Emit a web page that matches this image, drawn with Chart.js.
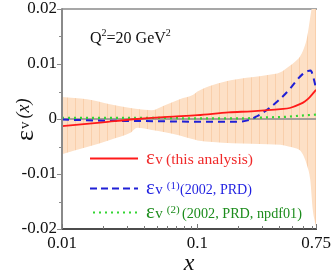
<!DOCTYPE html>
<html>
<head>
<meta charset="utf-8">
<script src="https://cdn.jsdelivr.net/npm/chart.js@4.4.1/dist/chart.umd.min.js"></script>
<style>
html,body{margin:0;padding:0;background:#fff;}
canvas{display:block;}
</style>
</head>
<body>
<canvas id="c" width="332" height="276"></canvas>
<script>
// ---- data ----
const bandX     = [0.01, 0.0153, 0.0226, 0.032, 0.036, 0.046, 0.0575, 0.074, 0.093, 0.1, 0.13, 0.18, 0.25, 0.33, 0.41, 0.47, 0.53, 0.57, 0.61, 0.645, 0.68, 0.71, 0.75];
const bandUpper = [0.0040, 0.0036, 0.0027, 0.0020, 0.0018, 0.0016, 0.0025, 0.0036, 0.0044, 0.0050, 0.0062, 0.0071, 0.0076, 0.0080, 0.0085, 0.0095, 0.0105, 0.0113, 0.0128, 0.0149, 0.0185, 0.0215, 0.026];
const bandLower = [-0.0064, -0.0051, -0.0038, -0.0025, -0.0016, -0.0020, -0.0024, -0.0030, -0.0037, -0.0039, -0.0042, -0.0044, -0.0045, -0.0046, -0.0047, -0.0050, -0.0053, -0.0057, -0.0068, -0.0085, -0.0110, -0.0165, -0.0195];

const redX = [0.01, 0.02, 0.036, 0.06, 0.1, 0.17, 0.25, 0.33, 0.41, 0.48, 0.57, 0.62, 0.67, 0.71, 0.75];
const redY = [-0.0013, -0.0006, 0.0000, 0.0004, 0.0007, 0.0012, 0.0014, 0.0016, 0.0018, 0.0020, 0.0027, 0.0032, 0.0039, 0.0046, 0.0053];

const blueX = [0.01, 0.02, 0.05, 0.1, 0.19, 0.24, 0.275, 0.332, 0.406, 0.482, 0.543, 0.6, 0.65, 0.685, 0.72, 0.75];
const blueY = [-0.0001, -0.0003, -0.0004, -0.0005, -0.0005, -0.0002, 0.0005, 0.0018, 0.0036, 0.0055, 0.0071, 0.0082, 0.0087, 0.0088, 0.0074, 0.0056];

const greenX = [0.01, 0.05, 0.1, 0.2, 0.33, 0.45, 0.57, 0.75];
const greenY = [0.0002, 0.0002, 0.0001, 0.0001, 0.0003, 0.0004, 0.0006, 0.0008];

const xTickValues = [0.01, 0.1, 0.75];
const xTickLabels = ['0.01', '0.1', '0.75'];
const xMinorTicks = [0.02, 0.03, 0.04, 0.05, 0.06, 0.07, 0.08, 0.09, 0.2, 0.3, 0.4, 0.5, 0.6, 0.7];
const yTickValues = [-0.02, -0.01, 0, 0.01, 0.02];
const yTickLabels = ['-0.02', '-0.01', '0', '0.01', '0.02'];
const yMinorTicks = [-0.015, -0.005, 0.005, 0.015];

const legendRows = [
  {color:'#ff1a1a', text:'#f02a2a', dash:[], sup:'', label:'(this analysis)', lx: 166, rx: 253},
  {color:'#1f1fd6', text:'#1f1fe0', dash:[7,4], sup:'(1)', label:'(2002, PRD)', lx: 180, rx: 252},
  {color:'#33d633', text:'#1c8c1c', dash:[2,4], sup:'(2)', label:'(2002, PRD, npdf01)', lx: 182, rx: 302}
];

const pts = (xs, ys) => xs.map((x, i) => ({x: x, y: ys[i]}));

// hatched band fill
const pc = document.createElement('canvas');
pc.width = 8; pc.height = 4;
const pctx = pc.getContext('2d');
pctx.fillStyle = '#fde0c6'; pctx.fillRect(0, 0, 8, 4);
pctx.fillStyle = '#f9cfab'; pctx.fillRect(3, 0, 1, 4);
const ctx0 = document.getElementById('c').getContext('2d');
const bandPattern = ctx0.createPattern(pc, 'repeat');

const SERIF = '"Liberation Serif", "DejaVu Serif", serif';

function fitFont(ctx, text, width, base, style) {
  ctx.font = (style || '') + base + 'px ' + SERIF;
  const w = ctx.measureText(text).width;
  let s = base * width / w;
  s = Math.max(12, Math.min(17, s));
  ctx.font = (style || '') + s.toFixed(2) + 'px ' + SERIF;
  return s;
}

const decor = {
  id: 'decor',
  beforeDatasetsDraw(chart) {
    const {ctx, chartArea: a} = chart;
    ctx.save();
    ctx.strokeStyle = '#8a8a8a'; ctx.lineWidth = 1.5;
    ctx.beginPath(); ctx.moveTo(a.left, a.top); ctx.lineTo(a.right + 1, a.top); ctx.stroke();
    ctx.restore();
  },
  afterDatasetsDraw(chart) {
    const {ctx, chartArea: a, scales: {x, y}} = chart;
    ctx.save();
    ctx.strokeStyle = '#8a8a8a'; ctx.lineWidth = 2;
    ctx.beginPath(); ctx.moveTo(a.left, a.top - 0.75); ctx.lineTo(a.left, a.bottom); ctx.stroke();
    ctx.lineWidth = 1;
    yTickValues.forEach(v => { const py = Math.round(y.getPixelForValue(v)) + 0.5; ctx.beginPath(); ctx.moveTo(a.left - 5, py); ctx.lineTo(a.left, py); ctx.stroke(); });
    yMinorTicks.forEach(v => { const py = Math.round(y.getPixelForValue(v)) + 0.5; ctx.beginPath(); ctx.moveTo(a.left - 3, py); ctx.lineTo(a.left, py); ctx.stroke(); });
    ctx.strokeStyle = '#111'; ctx.lineWidth = 1.3;
    ctx.beginPath(); ctx.moveTo(a.left, a.bottom); ctx.lineTo(a.right + 1, a.bottom); ctx.stroke();
    ctx.strokeStyle = '#777'; ctx.lineWidth = 1;
    xTickValues.forEach(v => { const px = Math.round(x.getPixelForValue(v)) + 0.5; ctx.beginPath(); ctx.moveTo(px, a.bottom); ctx.lineTo(px, a.bottom - 5); ctx.stroke(); });
    xMinorTicks.forEach(v => { const px = Math.round(x.getPixelForValue(v)) + 0.5; ctx.beginPath(); ctx.moveTo(px, a.bottom); ctx.lineTo(px, a.bottom - 3); ctx.stroke(); });
    ctx.restore();
  },
  afterDraw(chart) {
    const {ctx, chartArea: a} = chart;
    ctx.save();
    ctx.textBaseline = 'alphabetic';
    ctx.textAlign = 'left';
    // Q^2 annotation
    let qx = 90; const qy = 43;
    const seg = (t, f, dy, col) => { ctx.font = f; ctx.fillStyle = col; ctx.fillText(t, qx, qy + dy); qx += ctx.measureText(t).width; };
    seg('Q', '16px ' + SERIF, 0, '#111');
    seg('2', '10px ' + SERIF, -7, '#111');
    seg('=20 GeV', '16px ' + SERIF, 0, '#111');
    seg('2', '10px ' + SERIF, -7, '#111');

    // x axis title
    ctx.font = 'italic 24px ' + SERIF; ctx.fillStyle = '#111'; ctx.textAlign = 'center';
    ctx.fillText('x', (a.left + a.right) / 2, 270);
    ctx.textAlign = 'left';

    // y axis title (rotated)
    ctx.save();
    ctx.translate(33, 118); ctx.rotate(-Math.PI / 2);
    let tx = -23;
    ctx.fillStyle = '#111';
    ctx.font = '26px ' + SERIF; ctx.fillText('\u03b5', tx, 0); tx += ctx.measureText('\u03b5').width + 1;
    ctx.font = '15px ' + SERIF; ctx.fillText('v', tx, -4); tx += ctx.measureText('v').width + 3;
    ctx.font = 'italic 18px ' + SERIF; ctx.fillText('(x)', tx, -4);
    ctx.restore();

    // legend
    const rowY = [158.5, 188.5, 212.5];
    legendRows.forEach((r, i) => {
      const ly = rowY[i];
      ctx.save();
      ctx.strokeStyle = r.color; ctx.lineWidth = i === 0 ? 1.8 : 2; ctx.setLineDash(r.dash);
      ctx.beginPath(); ctx.moveTo(i === 2 ? 93 : 90, ly); ctx.lineTo(138, ly); ctx.stroke();
      ctx.restore();
      let lx = 146; const by = ly + 5;
      ctx.fillStyle = r.text;
      ctx.font = '21px ' + SERIF; ctx.fillText('\u03b5', lx, by); lx += ctx.measureText('\u03b5').width + 0.5;
      ctx.font = '15px ' + SERIF; ctx.fillText('v', lx, by); lx += ctx.measureText('v').width;
      if (r.sup) {
        ctx.font = '11px ' + SERIF; ctx.fillText(r.sup, lx + 4, by - 5);
      }
      fitFont(ctx, r.label, r.rx - r.lx, 15, '');
      ctx.fillText(r.label, r.lx, by);
    });
    ctx.restore();
  }
};

new Chart(ctx0, {
  type: 'line',
  data: {
    datasets: [
      {data: pts(redX, redY), borderColor: '#ff1a1a', borderWidth: 1.8, pointRadius: 0, fill: false, cubicInterpolationMode: 'monotone', order: 1},
      {data: pts(blueX, blueY), borderColor: '#1f1fd6', borderWidth: 2, borderDash: [7, 5], pointRadius: 0, fill: false, cubicInterpolationMode: 'monotone', order: 2},
      {data: pts(greenX, greenY), borderColor: '#33d633', borderWidth: 2.2, borderDash: [2, 4], pointRadius: 0, fill: false, cubicInterpolationMode: 'monotone', order: 3},
      {data: pts([0.01, 0.75], [0, 0]), borderColor: '#8a8a8a', borderWidth: 1.5, pointRadius: 0, fill: false, order: 4},
      {data: pts(bandX, bandUpper), borderWidth: 0, borderColor: 'rgba(0,0,0,0)', backgroundColor: bandPattern, pointRadius: 0, fill: '+1', cubicInterpolationMode: 'monotone', order: 6},
      {data: pts(bandX, bandLower), borderWidth: 0, borderColor: 'rgba(0,0,0,0)', pointRadius: 0, fill: false, cubicInterpolationMode: 'monotone', order: 5}
    ]
  },
  options: {
    responsive: false,
    animation: false,
    devicePixelRatio: 1,
    layout: {padding: {top: 9, right: 16, left: 0, bottom: 0}},
    plugins: {legend: {display: false}, tooltip: {enabled: false}},
    scales: {
      x: {
        type: 'logarithmic', min: 0.01, max: 0.75,
        grid: {display: false, drawTicks: false}, border: {display: false},
        afterBuildTicks: s => { s.ticks = xTickValues.map(v => ({value: v})); },
        afterFit: s => { s.height = 47; s.paddingLeft = 0; s.paddingRight = 0; },
        ticks: {padding: 4, color: '#111', font: {family: SERIF, size: 17}, maxRotation: 0, autoSkip: false,
                callback: (v, i) => xTickLabels[i]}
      },
      y: {
        type: 'linear', min: -0.02, max: 0.02,
        grid: {display: false, drawTicks: false}, border: {display: false},
        afterBuildTicks: s => { s.ticks = yTickValues.map(v => ({value: v})); },
        afterFit: s => { s.width = 62; s.paddingTop = 0; s.paddingBottom = 0; },
        ticks: {padding: 5, color: '#111', font: {family: SERIF, size: 17}, autoSkip: false,
                callback: (v, i) => yTickLabels[i]}
      }
    }
  },
  plugins: [decor]
});
</script>
</body>
</html>
